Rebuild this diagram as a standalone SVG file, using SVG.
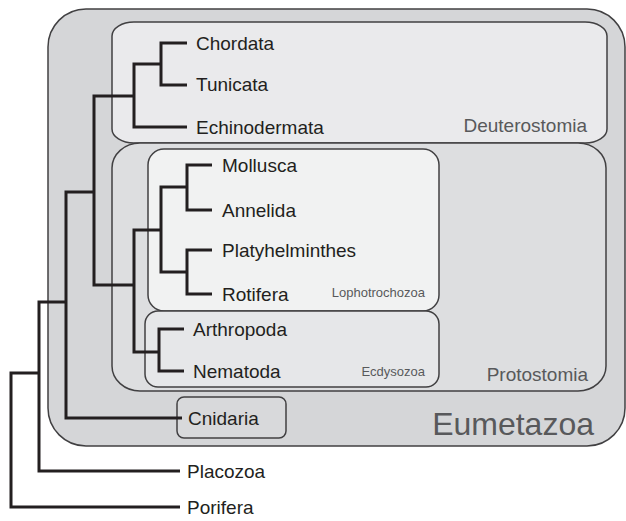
<svg xmlns="http://www.w3.org/2000/svg" width="626" height="521" viewBox="0 0 626 521">
<style>
.box{stroke:#414042;stroke-width:1.5}
.taxon{font-family:"Liberation Sans",Arial,sans-serif;font-size:19px;fill:#231f20}
.grp{font-family:"Liberation Sans",Arial,sans-serif;fill:#58595b;text-anchor:end}
.tree path{fill:none;stroke:#231f20;stroke-width:3;stroke-linejoin:miter}
</style>
<rect width="626" height="521" fill="#ffffff"/>
<g id="eumetazoa">
<rect class="box" x="48" y="9" width="577" height="437" rx="38" ry="38" fill="#d5d6d8"/>
<text class="grp" x="594" y="435" font-size="32">Eumetazoa</text>
</g>
<g id="deuterostomia">
<rect class="box" x="112" y="22" width="495" height="121" rx="22" ry="14" fill="#eaeaec"/>
<text class="grp" x="587" y="132" font-size="19">Deuterostomia</text>
</g>
<g id="protostomia">
<rect class="box" x="112" y="143" width="494" height="248" rx="28" ry="25" fill="#dddee0"/>
<text class="grp" x="588" y="381" font-size="19">Protostomia</text>
</g>
<g id="lophotrochozoa">
<rect class="box" x="148" y="149" width="291" height="162" rx="16" ry="16" fill="#f1f2f2"/>
<text class="grp" x="425" y="297" font-size="13">Lophotrochozoa</text>
</g>
<g id="ecdysozoa">
<rect class="box" x="145" y="311" width="294" height="76" rx="13" ry="13" fill="#e6e7e9"/>
<text class="grp" x="425" y="376" font-size="13">Ecdysozoa</text>
</g>
<g id="cnidaria-box">
<rect class="box" x="177" y="397" width="109" height="41" rx="7" ry="7" fill="#d8d9db"/>
</g>
<g id="connectors" class="tree">
<path d="M187,43 H161 V85 H187"/>
<path d="M161,64 H134 V127 H187"/>
<path d="M134,96 H94 V285 H134"/>
<path d="M161,230 H134 V352 H159"/>
<path d="M187,187 H161 V272 H187"/>
<path d="M212,165 H187 V210 H212"/>
<path d="M212,250 H187 V294 H212"/>
<path d="M184,329 H159 V371 H184"/>
<path d="M94,192 H66 V418 H182"/>
<path d="M66,302 H39 V471 H180"/>
<path d="M39,373 H11 V507 H180"/>
</g>
<g id="chordata"><text class="taxon" x="196" y="50">Chordata</text></g>
<g id="tunicata"><text class="taxon" x="196" y="91">Tunicata</text></g>
<g id="echinodermata"><text class="taxon" x="196" y="134">Echinodermata</text></g>
<g id="mollusca"><text class="taxon" x="222" y="172">Mollusca</text></g>
<g id="annelida"><text class="taxon" x="222" y="217">Annelida</text></g>
<g id="platyhelminthes"><text class="taxon" x="222" y="257">Platyhelminthes</text></g>
<g id="rotifera"><text class="taxon" x="222" y="301">Rotifera</text></g>
<g id="arthropoda"><text class="taxon" x="193" y="336">Arthropoda</text></g>
<g id="nematoda"><text class="taxon" x="193" y="378">Nematoda</text></g>
<g id="cnidaria"><text class="taxon" x="188" y="425">Cnidaria</text></g>
<g id="placozoa"><text class="taxon" x="187" y="478">Placozoa</text></g>
<g id="porifera"><text class="taxon" x="187" y="514">Porifera</text></g>
</svg>
